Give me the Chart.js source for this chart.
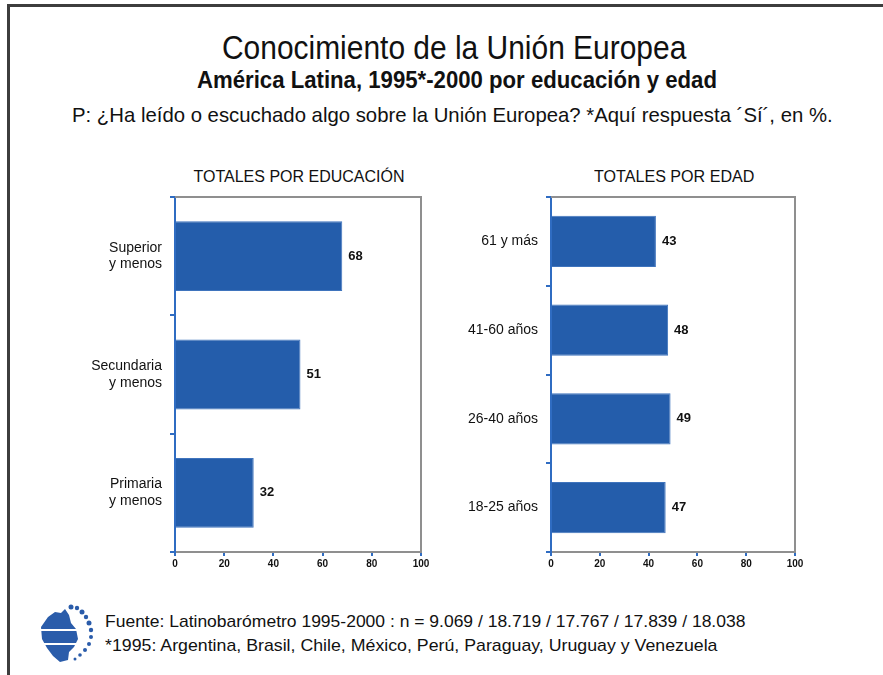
<!DOCTYPE html>
<html>
<head>
<meta charset="utf-8">
<script src="https://cdn.jsdelivr.net/npm/chart.js@4"></script>
<style>
  body { margin:0; background:#fff; width:883px; height:675px; overflow:hidden; position:relative;
         font-family:"Liberation Sans", Arial, sans-serif; }
  #marco { position:absolute; left:7px; top:4px; width:900px; height:700px;
           border-top:3px solid #3d3d3d; border-left:3px solid #3d3d3d; }
  .t { position:absolute; white-space:nowrap; line-height:1; color:#111; transform-origin:0 0; }
  canvas { position:absolute; }
  #logo { position:absolute; left:38px; top:603px; }
</style>
</head>
<body>
<div id="marco"></div>

<div class="t" data-cx="454" data-base="59" data-fs="34" data-w="464">Conocimiento de la Unión Europea</div>
<div class="t" data-cx="457" data-base="88" data-fs="24" data-w="520" style="font-weight:bold">América Latina, 1995*-2000 por educación y edad</div>
<div class="t" data-cx="452" data-base="122" data-fs="21" data-w="761">P: ¿Ha leído o escuchado algo sobre la Unión Europea? *Aquí respuesta ´Sí´, en %.</div>

<div class="t" data-cx="299" data-base="183" data-fs="16" data-w="211">TOTALES POR EDUCACIÓN</div>
<div class="t" data-cx="674" data-base="183" data-fs="16" data-w="160">TOTALES POR EDAD</div>

<svg id="logo" width="60" height="60" viewBox="0 0 60 60">
  <path d="M10 14 L17 9 L23 10 L27 6 L31 12 L33 20 L38 26 L40 36 L36 44 L31 49 L30 57 L22 59 L15 53 L9 45 L4 36 L3 24 Z" fill="#2a5caa"/>
  <rect x="1" y="26" width="40" height="2" fill="#fff"/>
  <rect x="1" y="40" width="40" height="2" fill="#fff"/>
  <g fill="#2a5caa">
    <circle cx="33" cy="4" r="2.5"/><circle cx="39" cy="5" r="2.2"/><circle cx="44" cy="9" r="2.5"/>
    <circle cx="48" cy="14" r="2.2"/><circle cx="51" cy="20" r="2.5"/><circle cx="53" cy="27" r="2.2"/>
    <circle cx="53" cy="34" r="2"/><circle cx="51" cy="41" r="2"/><circle cx="47" cy="47" r="2"/>
    <circle cx="42" cy="52" r="1.8"/><circle cx="37" cy="56" r="1.5"/>
  </g>
</svg>

<div class="t" data-x="105" data-base="627" data-fs="17" data-w="640">Fuente: Latinobarómetro 1995-2000 : n = 9.069 / 18.719 / 17.767 / 17.839 / 18.038</div>
<div class="t" data-x="105" data-base="651" data-fs="17" data-w="613">*1995: Argentina, Brasil, Chile, México, Perú, Paraguay, Uruguay y Venezuela</div>

<canvas id="chartEducacion" width="360" height="400" style="left:80px;top:185px"></canvas>
<canvas id="chartEdad" width="360" height="400" style="left:455px;top:185px"></canvas>

<script>
// Datos
const categoriasEducacion = [["Superior", "y menos"], ["Secundaria", "y menos"], ["Primaria", "y menos"]];
const valoresEducacion = [68, 51, 32];
const categoriasEdad = ["61 y más", "41-60 años", "26-40 años", "18-25 años"];
const valoresEdad = [43, 48, 49, 47];
const ticksX = [0, 20, 40, 60, 80, 100];

const AZUL = "#245dab";
const AZUL_EJE = "#2f6cc2";
const GRIS = "#8f8f8f";

// Ajustar textos al ancho del original
document.querySelectorAll(".t").forEach(el => {
  const fs = +el.dataset.fs;
  el.style.fontSize = fs + "px";
  el.style.top = (el.dataset.base - 0.8465 * fs) + "px";
  const w = +el.dataset.w;
  const escala = w / el.offsetWidth;
  el.style.transform = "scaleX(" + escala + ")";
  if (el.dataset.cx) el.style.left = (el.dataset.cx - w / 2) + "px";
  else el.style.left = el.dataset.x + "px";
});

// Marco gris arriba y a la derecha + etiquetas de valores
const pluginMarco = {
  id: "marco",
  beforeDatasetsDraw(chart) {
    const { ctx, chartArea: a } = chart;
    ctx.save();
    ctx.strokeStyle = GRIS;
    ctx.lineWidth = 2;
    ctx.beginPath();
    ctx.moveTo(a.left, a.top);
    ctx.lineTo(a.right, a.top);
    ctx.lineTo(a.right, a.bottom);
    ctx.stroke();
    ctx.restore();
  },
  afterDatasetsDraw(chart) {
    const { ctx } = chart;
    const datos = chart.data.datasets[0].data;
    ctx.save();
    ctx.font = "bold 13px 'Liberation Sans', Arial, sans-serif";
    ctx.fillStyle = "#111";
    ctx.textBaseline = "middle";
    chart.getDatasetMeta(0).data.forEach((barra, i) => {
      ctx.fillText(datos[i], barra.x + 6, barra.y);
    });
    ctx.restore();
  }
};

function crearGrafico(id, etiquetas, valores, anchoEje, padDerecha, porcentaje) {
  const ctx = document.getElementById(id).getContext("2d");
  return new Chart(ctx, {
    type: "bar",
    data: {
      labels: etiquetas,
      datasets: [{
        data: valores,
        backgroundColor: AZUL,
        borderColor: "#3f74bd",
        borderWidth: 1,
        barPercentage: porcentaje,
        categoryPercentage: 1
      }]
    },
    options: {
      indexAxis: "y",
      responsive: false,
      animation: false,
      devicePixelRatio: 1,
      layout: { padding: { top: 12, right: padDerecha, left: 0, bottom: 0 } },
      plugins: { legend: { display: false }, tooltip: { enabled: false } },
      scales: {
        x: {
          min: ticksX[0],
          max: ticksX[ticksX.length - 1],
          afterBuildTicks: s => { s.ticks = ticksX.map(v => ({ value: v })); },
          ticks: { font: { size: 10, weight: "bold" }, color: "#111", padding: 2 },
          grid: { drawOnChartArea: false, tickLength: 4, color: AZUL_EJE, lineWidth: 2 },
          border: { color: GRIS, width: 2 },
          afterFit: s => { s.height = 33; s.paddingLeft = 0; s.paddingRight = 0; }
        },
        y: {
          ticks: { font: { size: 14 }, color: "#111", padding: 8, lineHeight: 1.1 },
          grid: { drawOnChartArea: false, tickLength: 5, color: AZUL_EJE, lineWidth: 2, offset: true },
          border: { color: AZUL_EJE, width: 2 },
          afterFit: s => { s.width = anchoEje; s.paddingTop = 0; s.paddingBottom = 0; }
        }
      }
    },
    plugins: [pluginMarco]
  });
}

crearGrafico("chartEducacion", categoriasEducacion, valoresEducacion, 95, 19, 0.59);
crearGrafico("chartEdad", categoriasEdad, valoresEdad, 96, 20, 0.58);
</script>
</body>
</html>
